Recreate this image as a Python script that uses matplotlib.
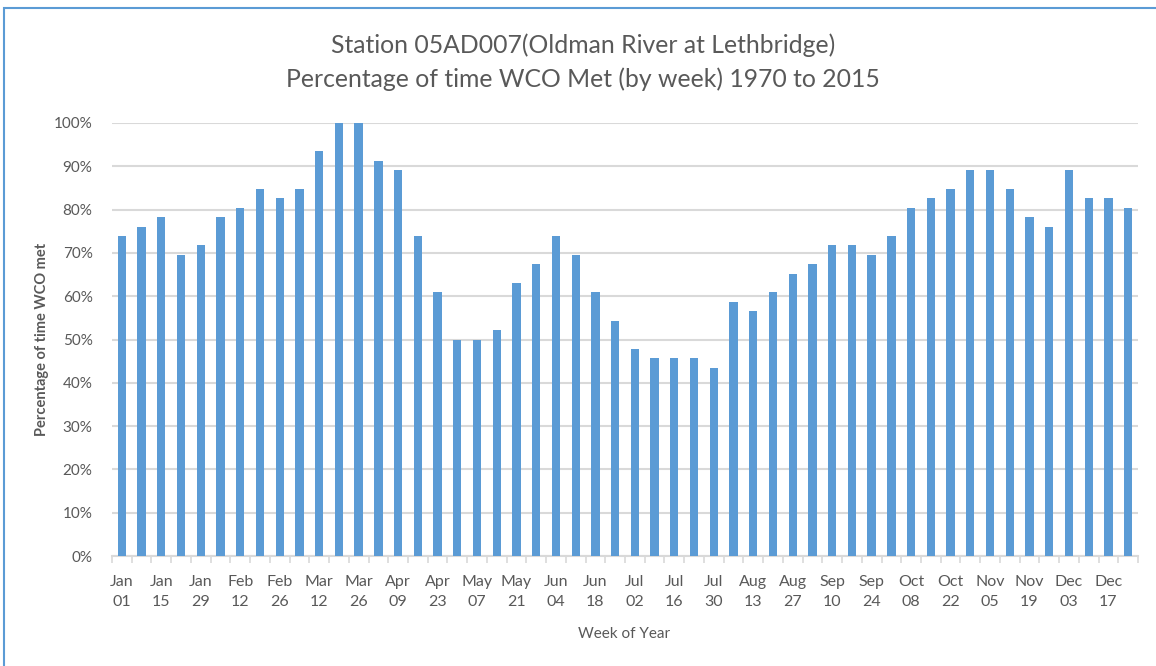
import matplotlib
matplotlib.use("Agg")
import matplotlib.pyplot as plt
from matplotlib.patches import Rectangle
import numpy as np

weeks = ["Jan 01", "Jan 08", "Jan 15", "Jan 22", "Jan 29", "Feb 05", "Feb 12", "Feb 19",
         "Feb 26", "Mar 05", "Mar 12", "Mar 19", "Mar 26", "Apr 02", "Apr 09", "Apr 16",
         "Apr 23", "Apr 30", "May 07", "May 14", "May 21", "May 28", "Jun 04", "Jun 11",
         "Jun 18", "Jun 25", "Jul 02", "Jul 09", "Jul 16", "Jul 23", "Jul 30", "Aug 06",
         "Aug 13", "Aug 20", "Aug 27", "Sep 03", "Sep 10", "Sep 17", "Sep 24", "Oct 01",
         "Oct 08", "Oct 15", "Oct 22", "Oct 29", "Nov 05", "Nov 12", "Nov 19", "Nov 26",
         "Dec 03", "Dec 10", "Dec 17", "Dec 24"]
# years in which the WCO was met, out of 46 (1970 to 2015)
years_met = [34, 35, 36, 32, 33, 36, 37, 39, 38, 39, 43, 46, 46, 42, 41, 34,
             28, 23, 23, 24, 29, 31, 34, 32, 28, 25, 22, 21, 21, 21, 20, 27,
             26, 28, 30, 31, 33, 33, 32, 34, 37, 38, 39, 41, 41, 39, 36, 35,
             41, 38, 38, 37]
n_years = 46
values = [v / n_years for v in years_met]

grey = "#595959"
bar_color = "#5B9BD5"
grid_color = "#D9D9D9"
font = ["Lato", "DejaVu Sans"]
plt.rcParams["font.family"] = font

W, H = 1156, 666
fig = plt.figure(figsize=(W / 100, H / 100), dpi=100)
L, R, T, B = 112, 1138, 123, 556
ax = fig.add_axes([L / W, 1 - B / H, (R - L) / W, (B - T) / H])

x = np.arange(len(weeks))
ax.bar(x, values, width=0.42, color=bar_color, zorder=3)

ax.set_xlim(-0.5, len(weeks) - 0.5)
ax.set_ylim(0, 1.0)
yt = np.arange(0, 1.01, 0.1)
ax.set_yticks(yt)
ax.set_yticklabels([f"{int(round(t*100))}%" for t in yt], fontsize=11, color=grey)
ax.yaxis.grid(True, color=grid_color, linewidth=1.5, zorder=0)
ax.tick_params(axis="y", length=0, pad=14)

ax.set_xticks(x[::2])
ax.set_xticklabels([w.replace(" ", "\n") for w in weeks[::2]], fontsize=11.5,
                   color=grey, linespacing=1.55)
ax.set_xticks(np.arange(-0.5, len(weeks), 1.0), minor=True)
ax.tick_params(axis="x", which="major", length=0, pad=14)
ax.tick_params(axis="x", which="minor", length=5, color=grid_color, width=1.2)

for s in ["top", "right", "left"]:
    ax.spines[s].set_visible(False)
ax.spines["bottom"].set_color(grid_color)
ax.spines["bottom"].set_linewidth(1.5)

ax.set_ylabel("Percentage of time WCO met", fontsize=10.5, color=grey,
              fontweight="bold")
ax.yaxis.set_label_coords((42 - L) / (R - L), 0.5)
ax.yaxis.label.set_va("center")
ax.set_xlabel("Week of Year", fontsize=11, color=grey)
ax.xaxis.set_label_coords((624 - L) / (R - L), -(634 - B) / (B - T))
ax.xaxis.label.set_va("center")

fig.text(583 / W, 1 - 45 / H, "Station 05AD007(Oldman River at Lethbridge)",
         ha="center", va="center", fontsize=17.8, color=grey)
fig.text(583 / W, 1 - 79 / H, "Percentage of time WCO Met (by week) 1970 to 2015",
         ha="center", va="center", fontsize=17.8, color=grey)

# outer chart border (left and top visible)
fig.patches.append(Rectangle((4 / W, -0.1), 1.2, 1 - 8 / H + 0.1,
                             transform=fig.transFigure, fill=False,
                             edgecolor="#5B9BD5", linewidth=1.5))

fig.savefig("out.png", dpi=100)
